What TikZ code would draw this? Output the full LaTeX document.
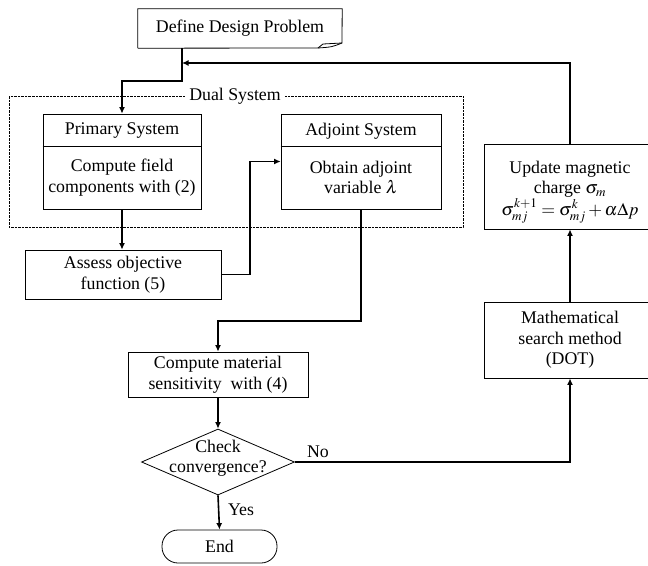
\documentclass[tikz,border=0pt]{standalone}
\usepackage{mathptmx}
\usepackage{fontspec}
\setmainfont{Liberation Serif}
\usetikzlibrary{arrows.meta,shapes.geometric,calc}
\newcommand\fs{\fontsize{17.8}{20.5}\selectfont}
\begin{document}
\begin{tikzpicture}[x=1pt,y=-1pt,
  box/.style={draw, line width=0.8pt, align=center, inner sep=0pt, font=\fs},
  lbl/.style={font=\fs, align=center, inner sep=1pt},
  conn/.style={line width=1.6pt, -{Latex[length=6.5pt,width=6pt]}},
  frame/.style={line width=0.8pt, dash pattern=on 2.5pt off 1pt}]
\useasboundingbox (0,0) rectangle (648,565);
% Define design problem (document shape)
\node[lbl, minimum width=204pt, minimum height=39pt] (def) at (240,28.5) {Define Design Problem};
\draw[line width=0.8pt] (def.south west) -- (def.north west) -- (def.north east) -- (342,43)
  -- (323,44) -- (318,48) -- (def.south west);
\draw[line width=0.8pt] (318,48) .. controls (332,47) .. (342,43);
% Dual system frame
\draw[frame] (9,96) rectangle (463,227);
\node[lbl, fill=white, inner xsep=4pt] (dual) at (235,96) {Dual System};
% Primary system
\node[box, minimum width=158pt, minimum height=95pt] (prim) at (122,161.5) {};
\draw[line width=0.8pt] ($(prim.north west)+(0,33)$) -- ($(prim.north east)+(0,33)$);
\node[lbl] (primh) at (122,131) {Primary System};
\node[lbl] (primb) at (122,177.5) {Compute field\\components with (2)};
% Adjoint system
\node[box, minimum width=160pt, minimum height=95pt] (adj) at (361,161.5) {};
\draw[line width=0.8pt] ($(adj.north west)+(0,33)$) -- ($(adj.north east)+(0,33)$);
\node[lbl] (adjh) at (361,131) {Adjoint System};
\node[lbl] (adjb) at (361,177.5) {Obtain adjoint\\variable $\lambda$};
% Assess
\node[box, minimum width=196pt, minimum height=49pt] (assess) at (123,274.5) {Assess objective\\function (5)};
% Sensitivity
\node[box, minimum width=180pt, minimum height=45pt] (sens) at (218,374.5) {Compute material\\sensitivity\ \ with (4)};
% Convergence
\node[diamond, draw, line width=0.8pt, minimum width=153pt, minimum height=66pt, inner sep=0pt, aspect=2.32] (conv) at (218,462) {};
\node[lbl] (convt) at (218,458) {Check\\convergence?};
% End
\node[box, minimum width=115pt, minimum height=33pt, rounded corners=16pt] (end) at (219.5,546.5) {End};
% Update
\node[box, minimum width=172pt, minimum height=85pt] (upd) at (570,186.5) {};
\node[lbl] (updt) at (570,179) {Update magnetic\\charge $\sigma_m$};
\node[lbl] (updm) at (570,211) {$\sigma^{k+1}_{mj}=\sigma^{k}_{mj}+\alpha\Delta p$};
% Math search
\node[box, minimum width=172pt, minimum height=76pt] (math) at (570,340) {Mathematical\\search method\\(DOT)};
% Connectors
\coordinate (fb) at (182,63);
\coordinate (a1) at (250,0);
\draw[conn] ($(def.south west)+(44,0)$) -- ++(0,33) -| (prim.north);
\draw[conn] (upd.north) |- (fb);
\draw[conn] (prim.south) -- (prim.south |- assess.north);
\draw[conn] (assess.east) -| (a1 |- adj.west) -- (adj.west);
\draw[conn] (adj.south) -- ++(0,111.5) -| (sens.north);
\draw[conn] (sens.south) -- (conv.north);
\draw[conn] (conv.east) -| (math.south);
\node[lbl] (no) at (318,452) {No};
\draw[conn] (conv.south) -- (end.north);
\node[lbl] (yes) at (241,510) {Yes};
\draw[conn] (math.north) -- (upd.south);
\end{tikzpicture}
\end{document}
